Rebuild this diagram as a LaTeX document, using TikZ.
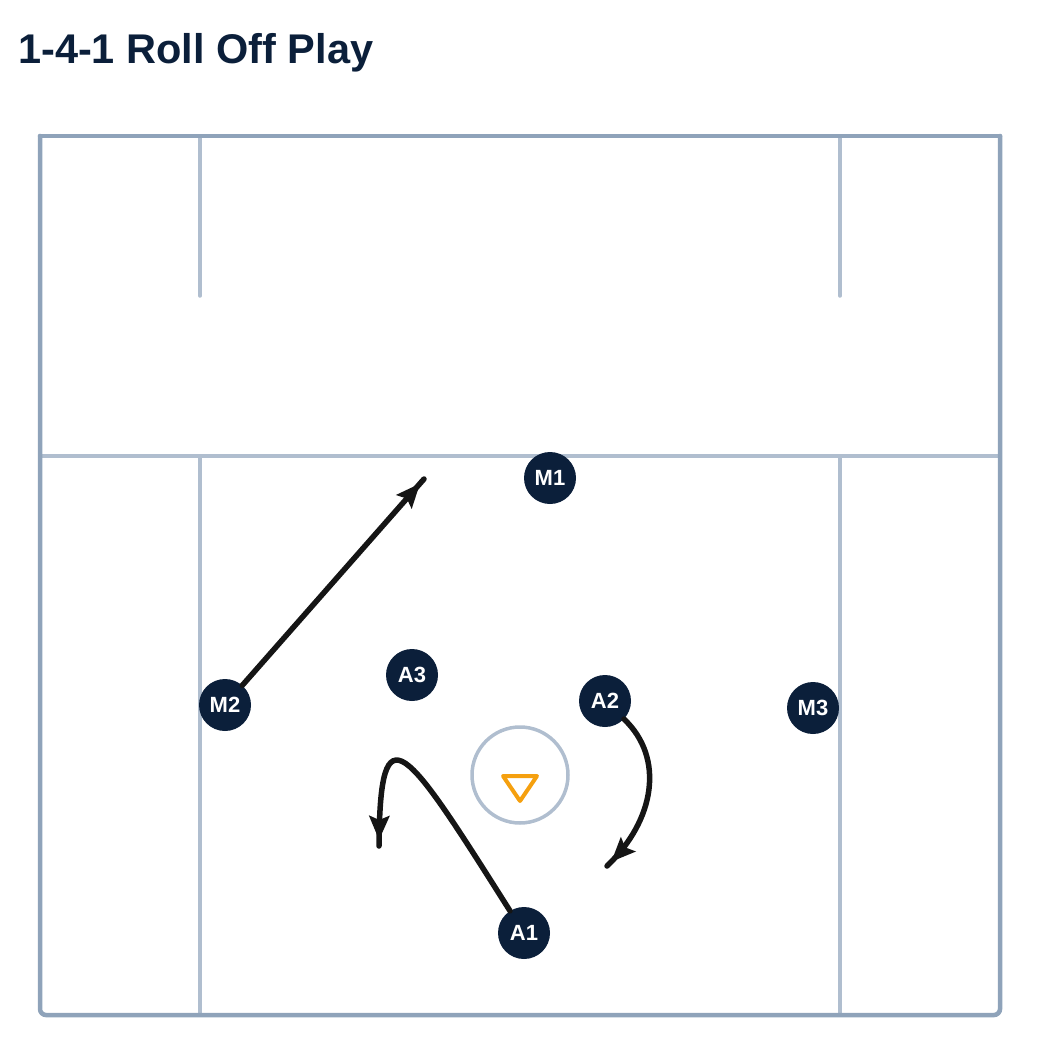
\documentclass[tikz,border=0pt]{standalone}
\usepackage{fontspec}
\setmainfont{Liberation Sans}
\usetikzlibrary{arrows.meta,decorations.markings}
\definecolor{navy}{HTML}{0B1F3A}
\definecolor{border}{HTML}{8FA3BA}
\definecolor{inner}{HTML}{B0BECF}
\definecolor{runc}{HTML}{151515}
\definecolor{goalc}{HTML}{F5A00F}
\tikzset{
  player/.style={circle, fill=navy, minimum size=52pt, inner sep=0pt, text=white, font=\fontsize{22}{22}\selectfont\bfseries},
  fieldline/.style={draw=inner, line width=3.5pt, line cap=round},
  outerline/.style={draw=border, line width=4.5pt, line cap=round, rounded corners=6pt},
  run/.style={draw=runc, line width=5.5pt, line cap=round, postaction={decorate},
    decoration={markings, mark=at position -6pt with {\arrow[runc]{Stealth[length=24pt,width=20pt,inset=4pt]}}}}
}
\begin{document}
\begin{tikzpicture}[x=1pt,y=-1pt]
\useasboundingbox (0,0) rectangle (1040,1056);
% title
\node[anchor=base west, inner sep=0pt, text=navy, font=\fontsize{41.5}{41.5}\selectfont\bfseries] (title) at (18,64) {1-4-1 Roll Off Play};
% field
\draw[fieldline] (40,456) -- (1000,456);
\draw[fieldline] (200,136) -- (200,296);
\draw[fieldline] (840,136) -- (840,296);
\draw[fieldline] (200,456) -- (200,1015);
\draw[fieldline] (840,456) -- (840,1015);
\draw[outerline] (40,136) -- (1000,136);
\draw[outerline] (40,136) -- (40,1015) -- (1000,1015) -- (1000,136);
% goal
\node[circle, draw=inner, line width=3.5pt, minimum size=96pt, inner sep=0pt] (goal) at (520,775) {};
\draw[goalc, line width=4pt, line join=round] (503,776) -- (537,776) -- (520,801) -- cycle;
% players
\node[player] (M1) at (550,478) {M1};
\node[player] (M2) at (225,705) {M2};
\node[player] (M3) at (813,708) {M3};
\node[player] (A3) at (412,675) {A3};
\node[player] (A2) at (605,701) {A2};
\node[player] (A1) at (524,933) {A1};
% run end points
\coordinate (e2) at (424,479);
\coordinate (e1) at (379,846);
\coordinate (e3) at (607,866);
% runs
\draw[run] (M2) -- (e2);
\draw[run] (A1) .. controls (405,745) and (380,705) .. (e1);
\draw[run] (A2) .. controls (665,758) and (655,820) .. (e3);
\end{tikzpicture}
\end{document}
